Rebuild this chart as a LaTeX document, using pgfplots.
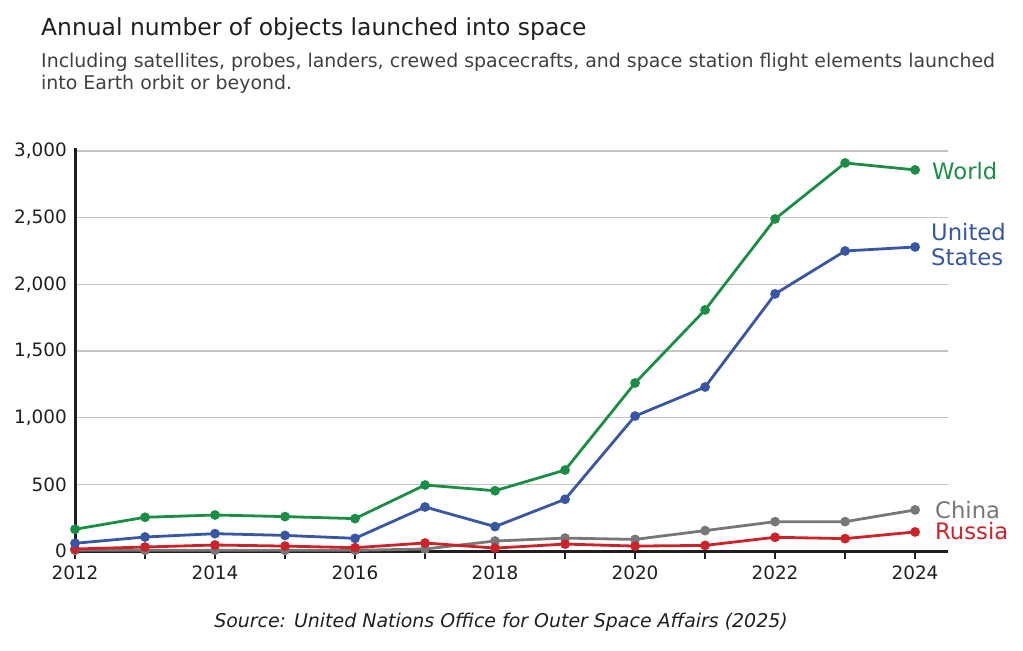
\documentclass[border=0pt]{standalone}
\usepackage{pgfplots}
\pgfplotsset{compat=1.18}
\usepackage{fontspec}
\setmainfont{DejaVu Sans}
\definecolor{cWorld}{HTML}{1B8E45}
\definecolor{cUS}{HTML}{3757A4}
\definecolor{cChina}{HTML}{777777}
\definecolor{cRussia}{HTML}{CC2229}
\definecolor{cGrid}{HTML}{C4C4C4}
\pgfplotstableread{
year world us china russia
2012 163 58 5 15
2013 253 105 5 30
2014 270 130 5 45
2015 258 117 5 37
2016 243 95 5 25
2017 495 330 15 60
2018 452 183 75 22
2019 607 388 97 52
2020 1260 1012 87 37
2021 1808 1230 153 42
2022 2490 1928 220 103
2023 2910 2250 220 93
2024 2858 2280 308 143
}\datatable
\begin{document}
\begin{tikzpicture}[x=1bp,y=1bp]
\path (0,0) rectangle (1023,-651);
\node[anchor=base west, inner sep=0pt, text=black!88, font=\fontsize{23.5}{26}\selectfont] at (41,-36) {Annual number of objects launched into space};
\node[anchor=base west, inner sep=0pt, text=black!75, font=\fontsize{19}{21.5}\selectfont] at (41,-68) {Including satellites, probes, landers, crewed spacecrafts, and space station flight elements launched};
\node[anchor=base west, inner sep=0pt, text=black!75, font=\fontsize{19}{21.5}\selectfont] at (41,-90) {into Earth orbit or beyond.};
\begin{axis}[
  at={(75bp,-551bp)}, anchor=south west,
  scale only axis, width=873bp, height=402.7bp,
  xmin=2012, xmax=2024.47, ymin=0, ymax=3020,
  axis x line*=bottom, axis y line*=left,
  axis line style={line width=3bp, black!88},
  xtick={2012,...,2024},
  xticklabels={2012,,2014,,2016,,2018,,2020,,2022,,2024},
  ytick={0,500,1000,1500,2000,2500,3000},
  yticklabels={0,500,{1,000},{1,500},{2,000},{2,500},{3,000}},
  xtick align=outside,
  major x tick style={line width=2bp, black!88},
  major tick length=8bp,
  major y tick style={draw=none},
  ymajorgrids, grid style={cGrid, line width=1.3bp},
  xticklabel style={font=\fontsize{18.5}{20}\selectfont, text=black!88, inner sep=0pt, yshift=-7bp},
  yticklabel style={font=\fontsize{18.5}{20}\selectfont, text=black!88, inner sep=0pt, xshift=-8bp},
  clip=false,
  every axis plot/.append style={line width=2.8bp, mark=*, mark size=3.4bp, mark options={solid}},
]
\addplot[cChina] table[x=year,y=china] {\datatable};
\addplot[cRussia] table[x=year,y=russia] {\datatable};
\addplot[cUS] table[x=year,y=us] {\datatable};
\addplot[cWorld] table[x=year,y=world] {\datatable};
\end{axis}
\begin{scope}[every node/.style={anchor=west, inner sep=0pt, font=\fontsize{22.8}{25}\selectfont}]
\node[text=cWorld] at (932,-171) {World};
\node[text=cUS, align=left, anchor=north west] at (931,-223) {United\\States};
\node[text=cChina] at (935,-510) {China};
\node[text=cRussia] at (935,-531) {Russia};
\end{scope}
\node[anchor=base, inner sep=0pt, text=black!88, font=\fontsize{19}{20}\selectfont\itshape] at (501,-627) {Source: United Nations Office for Outer Space Affairs (2025)};
\end{tikzpicture}
\end{document}
